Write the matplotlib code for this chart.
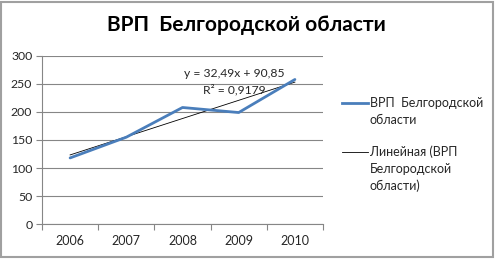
import matplotlib
matplotlib.use("Agg")
import matplotlib.pyplot as plt
from matplotlib.lines import Line2D
from matplotlib.patches import Rectangle
import numpy as np

years = ["2006", "2007", "2008", "2009", "2010"]
values = [118, 155, 208, 199, 258]
trend_slope = 32.49
trend_intercept = 90.85
r2_text = "0,9179"
yticks = [0, 50, 100, 150, 200, 250, 300]
series_label = "ВРП  Белгородской\nобласти"
trend_label = "Линейная (ВРП\nБелгородской\nобласти)"
title = "ВРП  Белгородской области"

plt.rcParams['font.family'] = ['Lato', 'DejaVu Sans']
W, H = 496, 259

fig = plt.figure(figsize=(4.96, 2.59), dpi=100)
ax = fig.add_axes([0.0847, 0.135, 0.5665, 0.649])

x = np.arange(1, len(years) + 1)
ax.plot(x, values, color='#4A7EBB', lw=2.0, solid_capstyle='round', zorder=3)
trend = trend_slope * x + trend_intercept
ax.plot(x, trend, color='black', lw=0.6, zorder=2)

ax.set_xlim(0.5, len(years) + 0.5)
ax.set_ylim(0, 300)
ax.set_yticks(yticks)
ax.set_yticklabels([str(t) for t in yticks], fontsize=8.8, color='#262626')
ax.set_xticks(x)
ax.set_xticklabels(years, fontsize=9, color='#262626')
ax.set_xticks(np.arange(0.5, len(years) + 1, 1), minor=True)
ax.tick_params(axis='x', which='major', length=0, pad=8)
ax.tick_params(axis='x', which='minor', length=4, color='#868686', width=0.8)
ax.tick_params(axis='y', length=4, color='#868686', width=0.8, pad=3)
ax.grid(axis='y', color='#868686', lw=0.8)
ax.set_axisbelow(True)
for s in ['top', 'right']:
    ax.spines[s].set_visible(False)
for s in ['left', 'bottom']:
    ax.spines[s].set_color('#868686')
    ax.spines[s].set_linewidth(0.8)

eq = "y = %sx + %s" % (str(trend_slope).replace('.', ','), str(trend_intercept).replace('.', ','))
ax.text(3.92, 268, eq, fontsize=8.7, ha='center', va='center', color='#262626')
ax.text(3.92, 240, "R² = " + r2_text, fontsize=8.7, ha='center', va='center', color='#262626')

fig.text(0.497, 0.903, title, fontsize=15, fontweight='bold',
         ha='center', va='center', color='black')

# legend drawn manually (Excel style: handle aligned with first text line)
entries = [(series_label, '#4A7EBB', 2.0, 103), (trend_label, 'black', 0.6, 152)]
for label, col, lw, ypx in entries:
    fig.add_artist(Line2D([342 / W, 368 / W], [1 - ypx / H] * 2, color=col, lw=lw,
                          transform=fig.transFigure))
    for i, line in enumerate(label.split('\n')):
        fig.text(370 / W, 1 - (ypx + 17 * i) / H, line, fontsize=9, ha='left',
                 va='center', color='#262626')

fig.patches.append(Rectangle((0.003, 0.006), 0.991, 0.988, transform=fig.transFigure,
                             fill=False, edgecolor='#A0A0A0', lw=1.5))

fig.savefig("out.png", dpi=100)
